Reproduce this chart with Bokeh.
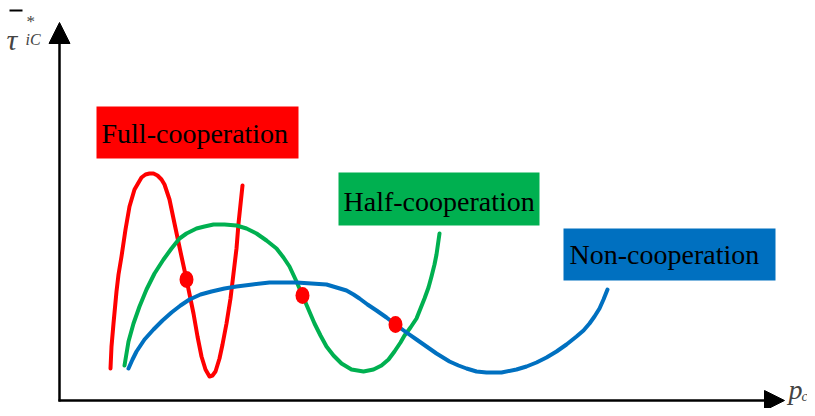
from bokeh.plotting import figure
from bokeh.models import Range1d, Arrow, NormalHead, Label, ColumnDataSource
from bokeh.core.properties import value
from bokeh.embed import file_html
from bokeh.resources import INLINE

# Curves (schematic values; origin at the axes corner)
full_x = [51, 52, 54, 57, 59, 62, 66, 70, 75, 82, 86, 90, 94, 98, 102, 105, 110, 115, 122, 127,
          134, 138, 142, 146, 150, 153, 156, 160, 163, 167, 171, 174, 177, 179, 183]
full_y = [32, 54, 77, 109, 126, 144, 171, 194, 211, 223, 226, 227, 227, 225, 221, 216, 201, 177, 144, 121,
          87, 64, 44, 31, 24, 25, 29, 42, 56, 77, 102, 127, 152, 177, 215]

half_x = [65, 69, 74, 80, 87, 95, 104, 112, 120, 127, 137, 145, 154, 165, 177, 187, 197, 207, 217, 224,
          230, 237, 243, 249, 255, 261, 267, 274, 282, 292, 304, 314, 322, 329, 335, 341, 345, 351, 357, 365,
          369, 372, 375, 377, 380]
half_y = [35, 59, 77, 94, 111, 127, 141, 152, 162, 167, 172, 174, 176, 176, 175, 172, 167, 160, 152, 143,
          134, 119, 105, 91, 77, 65, 54, 45, 37, 31, 29, 31, 35, 41, 49, 58, 65, 73, 82, 102,
          113, 124, 136, 146, 167]

non_x = [69, 73, 77, 85, 94, 103, 112, 121, 130, 141, 152, 165, 177, 193, 210, 224, 237, 252, 267, 277,
         287, 294, 300, 308, 317, 327, 336, 347, 357, 367, 377, 390, 399, 407, 417, 427, 442, 457, 467, 477,
         487, 497, 507, 517, 524, 530, 535, 540, 544, 548]
non_y = [32, 41, 49, 61, 71, 80, 88, 95, 101, 106, 109, 112, 114, 116, 118, 118, 118, 117, 116, 113,
         110, 106, 102, 96, 90, 83, 76, 68, 61, 54, 47, 39, 35, 32, 29, 28, 28, 31, 34, 38,
         43, 49, 56, 64, 70, 77, 84, 92, 101, 111]

# Equilibrium points
eq_x = [127, 243, 336]
eq_y = [121, 105, 76]

# Legend boxes
box_labels = ["Full-cooperation", "Half-cooperation", "Non-cooperation"]
box_colors = ["#FF0000", "#00B050", "#0070C0"]

RED, GREEN, BLUE = box_colors

p = figure(width=807, height=408, output_backend="svg", toolbar_location=None,
           x_range=Range1d(-59, 748), y_range=Range1d(-8, 400), min_border=0)
p.axis.visible = False
p.grid.visible = False
p.outline_line_color = None
p.background_fill_color = "white"

# boxes
p.quad(left=[37, 279, 504], right=[239, 480, 716], bottom=[242, 175, 120], top=[294, 228, 172],
       fill_color=box_colors, line_color=None)
src = ColumnDataSource(dict(x=[42, 284, 510], y=[267, 199, 146], t=box_labels))
p.text(x="x", y="y", text="t", source=src, text_font=value("Liberation Serif"),
       text_font_size="28px", text_color="black", text_baseline="alphabetic", text_align="left")

# curves
for xs, ys, c in [(full_x, full_y, RED), (half_x, half_y, GREEN), (non_x, non_y, BLUE)]:
    p.line(xs, ys, line_color=c, line_width=4, line_join="round", line_cap="round")

# points
p.ellipse(x=eq_x, y=eq_y, width=14, height=17, fill_color=RED, line_color=None)

# axes as arrows
p.add_layout(Arrow(end=NormalHead(size=21, fill_color="black", line_color="black"),
                   x_start=0, y_start=-1, x_end=0, y_end=378, line_width=2.5, line_color="black"))
p.add_layout(Arrow(end=NormalHead(size=20, fill_color="black", line_color="black"),
                   x_start=-1, y_start=0, x_end=725, y_end=0, line_width=2.5, line_color="black"))

# y axis label: tau-bar star iC
serif = "Liberation Serif"
p.add_layout(Label(x=-53, y=361, text="τ", text_font=serif, text_font_style="italic",
                   text_font_size="30px", text_baseline="alphabetic"))
p.segment(x0=[-50], y0=[390], x1=[-37], y1=[390], line_color="black", line_width=2)
p.add_layout(Label(x=-33, y=379, text="*", text_font=serif,
                   text_font_size="17px", text_baseline="alphabetic"))
p.add_layout(Label(x=-34, y=361, text="iC", text_font=serif, text_font_style="italic",
                   text_font_size="16px", text_baseline="alphabetic"))

# x axis label
p.add_layout(Label(x=729, y=11, text="p", text_font=serif, text_font_style="italic",
                   text_font_size="28px", text_baseline="alphabetic"))
p.add_layout(Label(x=742, y=4, text="c", text_font=serif, text_font_style="italic",
                   text_font_size="14px", text_baseline="alphabetic"))

open("out.html", "w").write(file_html(p, INLINE))
